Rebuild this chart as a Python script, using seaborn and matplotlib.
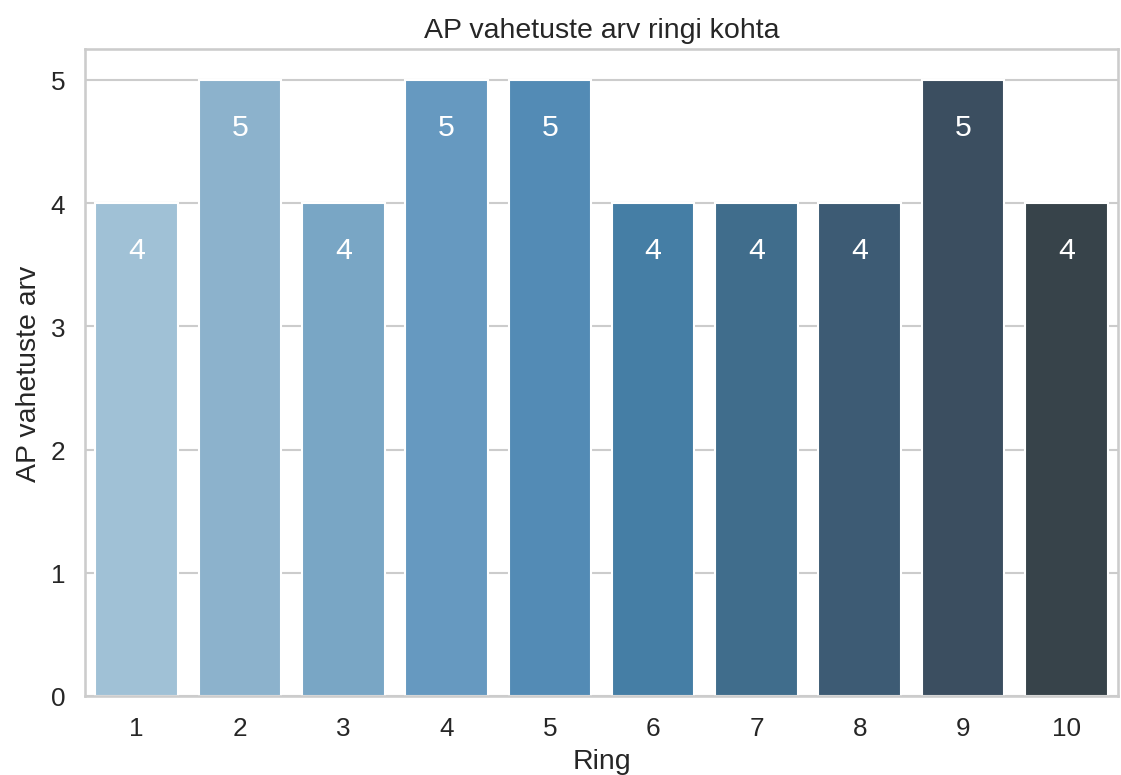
import pandas as pd
import matplotlib
matplotlib.use("Agg")
import matplotlib.pyplot as plt
import seaborn as sns

# --- Andmed ---
rings = [1, 2, 3, 4, 5, 6, 7, 8, 9, 10]
ap_changes = [4, 5, 4, 5, 5, 4, 4, 4, 5, 4]

# tulpade värvid (Blues_d laadne)
bar_colors = ["#a0c1d6", "#8cb2cc", "#79a6c5", "#6699c0", "#538bb5",
              "#457ea5", "#406d8c", "#3d5b74", "#3b4e60", "#37434a"]

df = pd.DataFrame({"Ring": rings, "AP vahetuste arv": ap_changes})

sns.set_theme(style="whitegrid", font_scale=1.14)
plt.rcParams['font.family'] = ['Arial', 'Liberation Sans', 'DejaVu Sans']

fig, ax = plt.subplots(figsize=(1121 / 150, 776 / 150), dpi=150)
fig.subplots_adjust(left=85 / 1121, right=1118 / 1121, top=1 - 50 / 776, bottom=1 - 697 / 776)

sns.barplot(data=df, x="Ring", y="AP vahetuste arv", hue="Ring",
            palette=bar_colors, saturation=1, legend=False, ax=ax)

# väärtused tulpade sisse
for i, v in enumerate(ap_changes):
    ax.text(i, v - 0.38, str(v), ha="center", va="center", color="white", fontsize=14.5)

ax.set_title("AP vahetuste arv ringi kohta")
ax.set_xlabel("Ring")
ax.set_ylabel("AP vahetuste arv")

fig.savefig("out.png", dpi=150)
